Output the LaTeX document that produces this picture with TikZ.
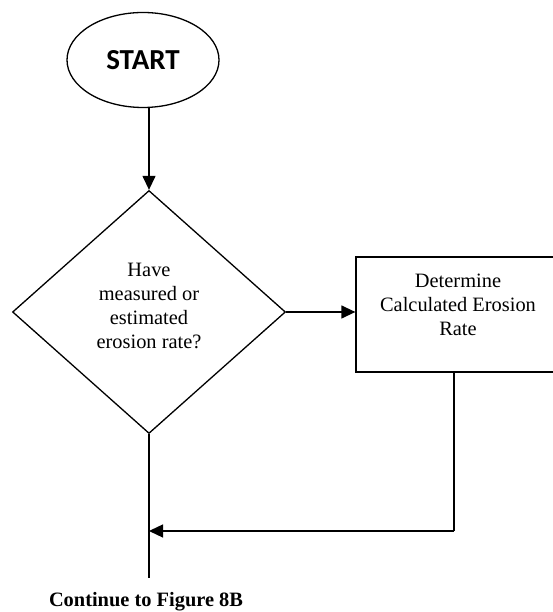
\documentclass[tikz,border=0pt]{standalone}
\usepackage{fontspec}
\setmainfont{Liberation Serif}
\newfontfamily\labelsans{Carlito}
\usetikzlibrary{shapes.geometric,arrows.meta}

\tikzset{
  x=1pt, y=1pt,
  flowline/.style={line width=1.3pt, draw=black},
  arrowline/.style={flowline, -{Triangle[length=14pt,width=13pt]}},
  terminal/.style={ellipse, draw, line width=1.3pt, minimum width=152pt, minimum height=95pt, inner sep=0pt},
  decision/.style={diamond, draw, line width=1.3pt, minimum width=273pt, minimum height=243pt, inner sep=0pt},
  process/.style={rectangle, draw, line width=1.3pt, minimum width=204pt, minimum height=115pt, inner sep=0pt},
  bodytext/.style={align=center, font=\fontsize{20.4}{23.8}\selectfont},
}

\begin{document}
\begin{tikzpicture}
\path[use as bounding box, clip] (0,0) rectangle (553,612);

\node[terminal] (start) at (143,552) {\labelsans\bfseries\fontsize{29}{32}\selectfont START};

\node[decision] (q) at (149,300) {};
\node[bodytext] (qtext) at (149,306)
  {Have\\measured or\\estimated\\erosion rate?};

\node[process] (calc) at (458,297.5) {};
\node[bodytext] (calctext) at (458,307)
  {Determine\\Calculated Erosion\\Rate};

\coordinate (calcout) at (454,240);
\coordinate (merge) at (149,81);
\coordinate (corner) at (454,81);
\coordinate (flowend) at (149,34);

\node[font=\bfseries\fontsize{20.4}{24}\selectfont] (cont) at (146,10) {Continue to Figure 8B};

% connectors
\draw[arrowline] (start.south -| q.north) -- (q.north);
\draw[arrowline] (q.east) -- (q.east -| calc.west);
\draw[flowline] (q.south) -- (flowend);
\draw[flowline] (calcout) -- (corner);
\draw[arrowline] (corner) -- (merge);
\end{tikzpicture}
\end{document}
